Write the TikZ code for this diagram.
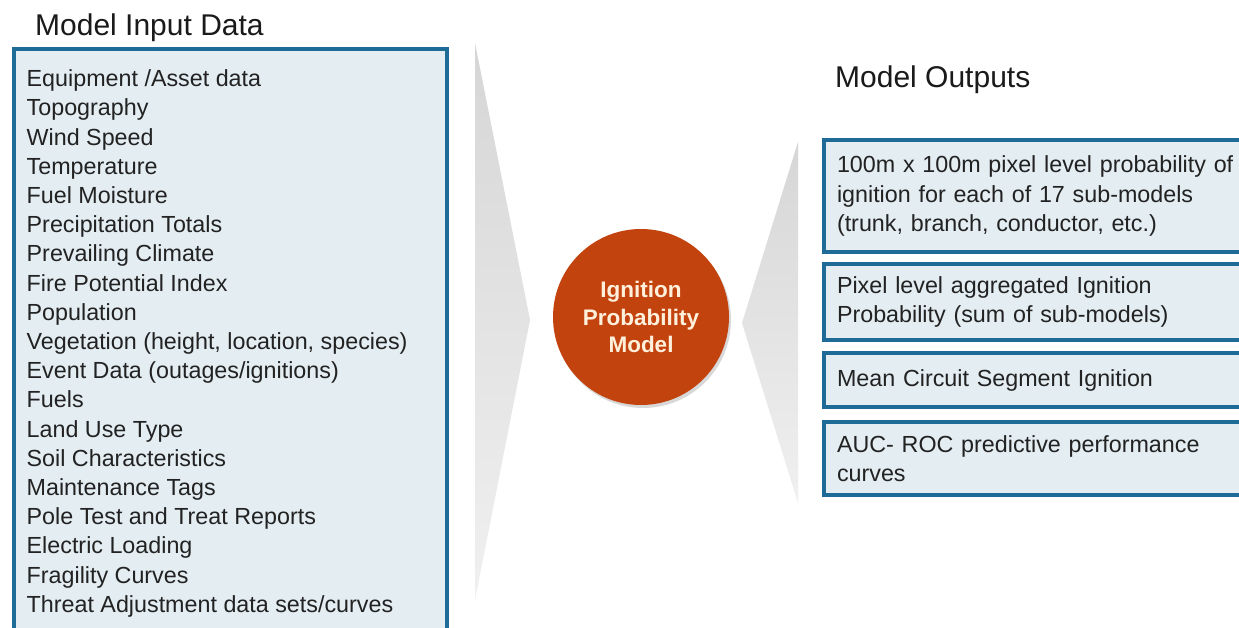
\documentclass[tikz,border=0pt]{standalone}
\usepackage{fontspec}
\setmainfont{Liberation Sans}
\usetikzlibrary{shadows}
\definecolor{boxline}{HTML}{1D6B96}
\definecolor{boxfill}{HTML}{E3EDF2}
\definecolor{bodytext}{HTML}{222222}
\definecolor{titletext}{HTML}{1A1A1A}
\definecolor{ignite}{HTML}{C3430E}
\definecolor{igntext}{HTML}{FFF0DC}
\definecolor{chevtop}{HTML}{D6D6D6}
\definecolor{chevbot}{HTML}{F0F0F0}
\begin{document}
\begin{tikzpicture}[x=1pt,y=-1pt,
  panel/.style={draw=boxline, line width=4pt, fill=boxfill},
  title/.style={font=\fontsize{30}{36}\selectfont, text=titletext, inner sep=0pt, anchor=base west},
  item/.style={font=\fontsize{23.3}{29}\selectfont, text=bodytext, inner sep=0pt, anchor=base west},
  outbox/.style={panel, anchor=north west, text width=414pt, inner xsep=13pt, inner ysep=0pt, align=left, font=\fontsize{23.3}{29.5}\selectfont, text=bodytext},
  chevron/.style={top color=chevtop, bottom color=chevbot, draw=none},
  model/.style={circle, fill=ignite, minimum size=176pt, inner sep=0pt, align=center, text=igntext, font=\bfseries\fontsize{22.5}{27.5}\selectfont, drop shadow={opacity=0.3, shadow xshift=2pt, shadow yshift=-3pt}}]
\clip (0,0) rectangle (1239,628);
\fill[white] (0,0) rectangle (1239,628);

% titles
\node[title] (intitle) at (35,35.5) {Model Input Data};
\node[title] (outtitle) at (835,88) {Model Outputs};

% input panel
\node[panel, anchor=north west, minimum width=433pt, minimum height=600pt] (inputs) at (12,47) {};
\foreach \t [count=\i] in {Equipment /Asset data, Topography, Wind Speed, Temperature, Fuel Moisture, Precipitation Totals, Prevailing Climate, Fire Potential Index, Population, {Vegetation (height, location, species)}, Event Data (outages/ignitions), Fuels, Land Use Type, Soil Characteristics, Maintenance Tags, Pole Test and Treat Reports, Electric Loading, Fragility Curves, Threat Adjustment data sets/curves}
  \node[item] (in\i) at (26.5,{86.7+29.2*(\i-1)}) {\t};

% chevrons
\path[chevron] (475,43) -- (530,320) -- (475,600) -- cycle;
\path[chevron] (798,142) -- (742,323) -- (798,503) -- cycle;

% model
\node[model] (ipm) at (641,317) {Ignition\\Probability\\Model};

% outputs
\node[outbox, minimum height=112pt] (out1) at (822,138) {100m x 100m pixel level probability of\\ignition for each of 17 sub-models\\(trunk, branch, conductor, etc.)};
\node[outbox, minimum height=76pt] (out2) at (822,262) {Pixel level aggregated Ignition\\Probability (sum of sub-models)};
\node[outbox, minimum height=54pt] (out3) at (822,351) {Mean Circuit Segment Ignition};
\node[outbox, minimum height=73pt] (out4) at (822,420) {AUC- ROC predictive performance\\curves};
\end{tikzpicture}
\end{document}
